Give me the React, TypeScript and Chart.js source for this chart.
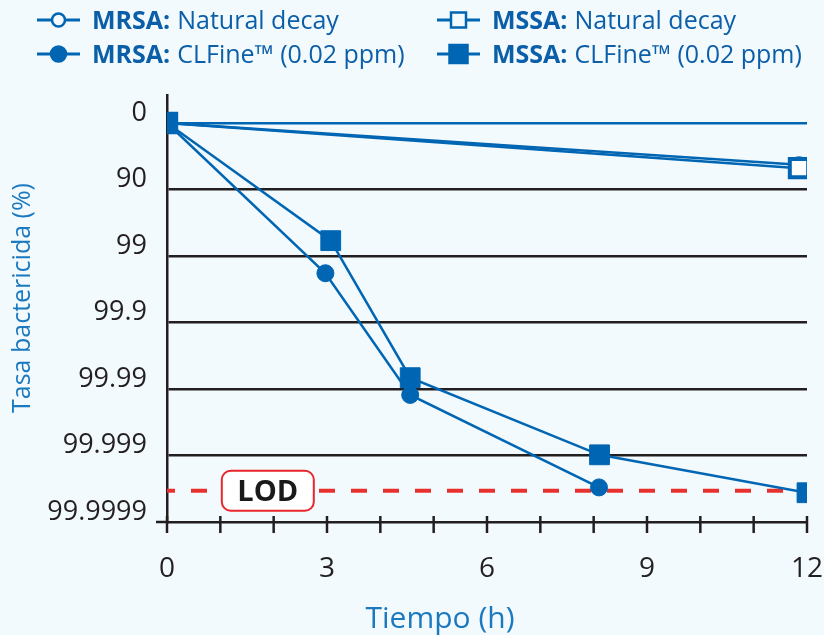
import React, { useEffect, useRef } from "react";
import { Chart, registerables } from "chart.js";

Chart.register(...registerables);

// ---- data ----
const mrsaNaturalHours = [0, 11.85];
const mrsaNaturalLog = [0, 0.63];
const mssaNaturalHours = [0, 11.85];
const mssaNaturalLog = [0, 0.68];
const mrsaClfineHours = [0, 2.97, 4.56, 8.1];
const mrsaClfineLog = [0, 2.26, 4.09, 5.48];
const mssaClfineHours = [0, 3.07, 4.56, 8.11, 12];
const mssaClfineLog = [0, 1.77, 3.83, 4.99, 5.56];
const lodHours = [0, 12];
const lodLog = [5.53, 5.53];
const yTickLabels = ["0", "90", "99", "99.9", "99.99", "99.999", "99.9999"];
const xTickValues = [0, 3, 6, 9, 12];
const xMinorTicks = [0, 1, 2, 3, 4, 5, 6, 7, 8, 9, 10, 11, 12];
const legendBold = ["MRSA:", "MSSA:", "MRSA:", "MSSA:"];
const legendText = ["Natural decay", "Natural decay", "CLFine\u2122 (0.02 ppm)", "CLFine\u2122 (0.02 ppm)"];
const lodLabel = "LOD";
const xTitle = "Tiempo (h)";
const yTitle = "Tasa bactericida (%)";

// ---- styles ----
const BLUE = "#0066b3";
const TEXT_BLUE = "#0b5ea8";
const TITLE_BLUE = "#1b79c0";
const DARK = "#231f20";
const RED = "#e8312f";
const BG = "#f3fafd";
const FONT = "'Open Sans', 'DejaVu Sans', sans-serif";
const LOD_LABEL_HOUR = 1.89;

const pts = (xs: number[], ys: number[]) => xs.map((x, i) => ({ x, y: ys[i] }));

const decorPlugin = {
  id: "decor",
  afterDatasetsDraw(chart: any) {
    const ctx = chart.ctx;
    const xs = chart.scales.x;
    const ys = chart.scales.y;
    const cx = xs.getPixelForValue(LOD_LABEL_HOUR);
    const cy = ys.getPixelForValue(lodLog[0]);
    const w = 92, h = 40, r = 9;
    ctx.save();
    ctx.beginPath();
    ctx.roundRect(cx - w / 2, cy - h / 2, w, h, r);
    ctx.fillStyle = "#ffffff";
    ctx.fill();
    ctx.lineWidth = 2;
    ctx.strokeStyle = "#e8262b";
    ctx.stroke();
    ctx.fillStyle = "#1a1a1a";
    ctx.font = `bold 29px ${FONT}`;
    ctx.textAlign = "center";
    ctx.textBaseline = "alphabetic";
    ctx.fillText(lodLabel, cx, cy + 10);
    ctx.restore();
  },
  afterDraw(chart: any) {
    const ctx = chart.ctx;
    const xs = chart.scales.x;
    const area = chart.chartArea;
    ctx.save();
    ctx.strokeStyle = DARK;
    ctx.lineWidth = 2.5;
    xMinorTicks.forEach((hr) => {
      const px = xs.getPixelForValue(hr);
      ctx.beginPath();
      ctx.moveTo(px, area.bottom - 6);
      ctx.lineTo(px, area.bottom + 11);
      ctx.stroke();
    });
    ctx.beginPath();
    ctx.moveTo(area.left - 11, area.bottom);
    ctx.lineTo(area.left, area.bottom);
    ctx.stroke();

    ctx.fillStyle = TITLE_BLUE;
    ctx.font = `30px ${FONT}`;
    ctx.textAlign = "center";
    ctx.textBaseline = "alphabetic";
    ctx.fillText(xTitle, 440, 628);
    ctx.save();
    ctx.translate(30, 298);
    ctx.rotate(-Math.PI / 2);
    ctx.font = `25px ${FONT}`;
    ctx.fillText(yTitle, 0, 0);
    ctx.restore();

    const cols = [37, 437];
    const rows = [20, 54];
    legendBold.forEach((b, i) => {
      const col = cols[i % 2];
      const row = rows[Math.floor(i / 2)];
      const mx = col + 21.5;
      ctx.strokeStyle = BLUE;
      ctx.lineWidth = 3;
      ctx.beginPath();
      ctx.moveTo(col, row);
      ctx.lineTo(col + 43, row);
      ctx.stroke();
      const isSquare = i % 2 === 1;
      const filled = i >= 2;
      ctx.beginPath();
      if (isSquare) {
        const s = filled ? 18 : 15;
        ctx.rect(mx - s / 2, row - s / 2, s, s);
      } else {
        ctx.arc(mx, row, filled ? 7.5 : 6.5, 0, Math.PI * 2);
      }
      ctx.fillStyle = filled ? BLUE : BG;
      ctx.fill();
      ctx.lineWidth = 2.5;
      ctx.stroke();
      ctx.fillStyle = TEXT_BLUE;
      ctx.textAlign = "left";
      ctx.font = `bold 25px ${FONT}`;
      const tx = col + 55;
      ctx.fillText(b, tx, row + 9);
      const bw = ctx.measureText(b).width;
      ctx.font = `25px ${FONT}`;
      ctx.fillText(legendText[i], tx + bw + 7, row + 9);
    });
    ctx.restore();
  },
};

export default function App() {
  const ref = useRef<HTMLCanvasElement | null>(null);
  useEffect(() => {
    if (!ref.current) return;
    const chart = new Chart(ref.current, {
      type: "line",
      data: {
        datasets: [
          {
            label: "MSSA: CLFine (0.02 ppm)",
            data: pts(mssaClfineHours, mssaClfineLog),
            borderColor: BLUE,
            backgroundColor: BLUE,
            borderWidth: 2.5,
            pointStyle: "rect",
            pointRadius: 14,
            pointBorderWidth: 1,
            pointBackgroundColor: BLUE,
            pointBorderColor: BLUE,
          },
          {
            label: "MSSA: Natural decay",
            data: pts(mssaNaturalHours, mssaNaturalLog),
            borderColor: BLUE,
            backgroundColor: "#ffffff",
            borderWidth: 2.5,
            pointStyle: "rect",
            pointRadius: 13,
            pointBorderWidth: 4,
            pointBackgroundColor: "#ffffff",
            pointBorderColor: BLUE,
          },
          {
            label: "MRSA: CLFine (0.02 ppm)",
            data: pts(mrsaClfineHours, mrsaClfineLog),
            borderColor: BLUE,
            backgroundColor: BLUE,
            borderWidth: 2.5,
            pointStyle: "circle",
            pointRadius: 8.5,
            pointBorderWidth: 1,
            pointBackgroundColor: BLUE,
            pointBorderColor: BLUE,
          },
          {
            label: "MRSA: Natural decay",
            data: pts(mrsaNaturalHours, mrsaNaturalLog),
            borderColor: BLUE,
            backgroundColor: "#ffffff",
            borderWidth: 2.5,
            pointStyle: "circle",
            pointRadius: 7,
            pointBorderWidth: 3,
            pointBackgroundColor: "#ffffff",
            pointBorderColor: BLUE,
          },
          {
            label: "LOD",
            data: pts(lodHours, lodLog),
            borderColor: RED,
            borderWidth: 4,
            borderDash: [16, 16],
            borderDashOffset: 8,
            pointRadius: 0,
          },
        ],
      },
      options: {
        responsive: false,
        animation: false,
        devicePixelRatio: 1,
        events: [],
        layout: { padding: { top: 95, left: 0, right: 0, bottom: 0 } },
        plugins: { legend: { display: false }, tooltip: { enabled: false } },
        elements: { line: { tension: 0 } },
        scales: {
          x: {
            type: "linear",
            min: 0,
            max: 12,
            afterFit: (s: any) => {
              s.height = 113;
              s.paddingRight = 15;
            },
            afterBuildTicks: (s: any) => {
              s.ticks = xTickValues.map((v) => ({ value: v }));
            },
            grid: { drawOnChartArea: false, drawTicks: false, color: "rgba(0,0,0,0)" },
            border: { display: true, color: DARK, width: 2.5 },
            ticks: {
              color: DARK,
              font: { family: FONT, size: 28 },
              padding: 30,
              maxRotation: 0,
              callback: (v: any) => String(v),
            },
          },
          y: {
            type: "linear",
            reverse: true,
            min: -0.42,
            max: 6,
            afterFit: (s: any) => {
              s.width = 167;
            },
            afterBuildTicks: (s: any) => {
              s.ticks = yTickLabels.map((_, i) => ({ value: i }));
            },
            grid: {
              drawTicks: false,
              lineWidth: 2.5,
              color: (c: any) => {
                const v = c.tick ? c.tick.value : -1;
                if (v === 0) return BLUE;
                if (v === 6) return "rgba(0,0,0,0)";
                return DARK;
              },
            },
            border: { display: true, color: DARK, width: 2.5 },
            ticks: {
              color: DARK,
              font: { family: FONT, size: 27 },
              padding: 20,
              labelOffset: -10,
              callback: (v: any) => yTickLabels[v as number] ?? "",
            },
          },
        },
      },
      plugins: [decorPlugin],
    } as any);
    return () => chart.destroy();
  }, []);
  return (
    <div style={{ position: "fixed", left: 0, top: 0, width: 824, height: 635, background: BG }}>
      <canvas ref={ref} width={824} height={635} style={{ width: 824, height: 635, display: "block" }} />
    </div>
  );
}
